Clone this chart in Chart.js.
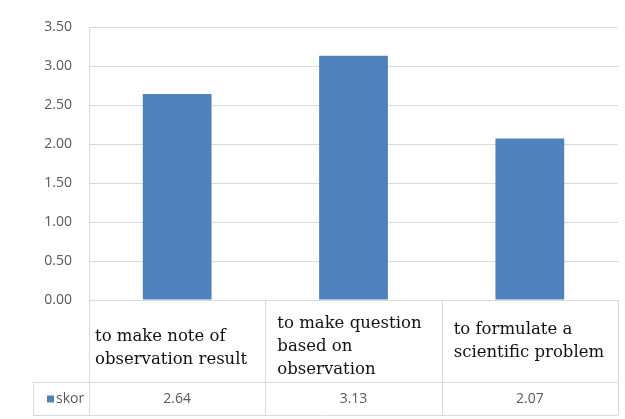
<!DOCTYPE html>
<html>
<head>
<meta charset="utf-8">
<script src="https://cdn.jsdelivr.net/npm/chart.js@4"></script>
<style>
html,body{margin:0;padding:0;background:#fff;}
#wrap{width:625px;height:419px;}
</style>
</head>
<body>
<div id="wrap"><canvas id="c" width="625" height="419"></canvas></div>
<script>
const categories = [
  ["to make note of", "observation result"],
  ["to make question", "based on", "observation"],
  ["to formulate a", "scientific problem"]
];
const seriesName = "skor";
const skor = [2.64, 3.13, 2.07];
const yTicks = [0, 0.5, 1, 1.5, 2, 2.5, 3, 3.5];

const GRID = "#d9d9d9";
const BAR = "#4f81bd";

const tablePlugin = {
  id: "dataTable",
  afterDraw(chart) {
    const ctx = chart.ctx;
    const x = chart.scales.x;
    const area = chart.chartArea;
    const n = categories.length;
    const cw = (area.right - area.left) / n;
    const top = area.bottom;
    const rowTop = top + 82;
    const bottom = rowTop + 33;
    const legendLeft = 33;
    ctx.save();
    ctx.strokeStyle = GRID;
    ctx.lineWidth = 1;
    ctx.beginPath();
    for (let i = 0; i <= n; i++) {
      const xx = Math.round(area.left + i * cw) + 0.5;
      ctx.moveTo(xx, top);
      ctx.lineTo(xx, bottom);
    }
    ctx.moveTo(legendLeft + 0.5, rowTop);
    ctx.lineTo(legendLeft + 0.5, bottom);
    ctx.moveTo(legendLeft, rowTop + 0.5);
    ctx.lineTo(area.right, rowTop + 0.5);
    ctx.moveTo(legendLeft, bottom + 0.5);
    ctx.lineTo(area.right, bottom + 0.5);
    ctx.stroke();

    ctx.fillStyle = "#111111";
    ctx.font = "16.5px 'DejaVu Serif'";
    ctx.textBaseline = "middle";
    ctx.textAlign = "left";
    const lh = 23;
    const pads = [6, 12, 12];
    const yOff = [7, 6, 0];
    categories.forEach((lines, i) => {
      const cx = x.getPixelForValue(i);
      const left = cx - cw / 2 + pads[i];
      const midY = (top + rowTop) / 2 + yOff[i];
      const startY = midY - (lines.length - 1) * lh / 2;
      lines.forEach((t, j) => ctx.fillText(t, left, startY + j * lh));
    });

    const rowMid = (rowTop + bottom) / 2 + 1;
    ctx.fillStyle = BAR;
    ctx.fillRect(legendLeft + 14, rowMid - 4, 7, 7);
    ctx.fillStyle = "#595959";
    ctx.font = "14px 'Open Sans'";
    ctx.textAlign = "left";
    ctx.fillText(seriesName, legendLeft + 23, rowMid);
    ctx.textAlign = "center";
    skor.forEach((v, i) => {
      ctx.fillText(v.toFixed(2), x.getPixelForValue(i), rowMid);
    });
    ctx.restore();
  }
};

new Chart(document.getElementById("c"), {
  type: "bar",
  data: {
    labels: categories.map(c => c.join(" ")),
    datasets: [{
      label: seriesName,
      data: skor,
      backgroundColor: BAR,
      barPercentage: 0.39,
      categoryPercentage: 1.0
    }]
  },
  options: {
    responsive: false,
    animation: false,
    devicePixelRatio: 1,
    layout: { padding: { top: 27, bottom: 119, right: 7, left: 0 } },
    plugins: { legend: { display: false }, tooltip: { enabled: false } },
    scales: {
      x: { display: false },
      y: {
        min: 0, max: 3.5,
        afterFit(scale) { scale.width = 89; },
        afterBuildTicks(scale) { scale.ticks = yTicks.map(v => ({ value: v })); },
        ticks: {
          padding: 17,
          color: "#595959",
          font: { family: "'Open Sans'", size: 14 },
          callback: v => Number(v).toFixed(2)
        },
        grid: { color: GRID, drawTicks: false },
        border: { display: true, color: GRID }
      }
    }
  },
  plugins: [tablePlugin]
});
</script>
</body>
</html>
